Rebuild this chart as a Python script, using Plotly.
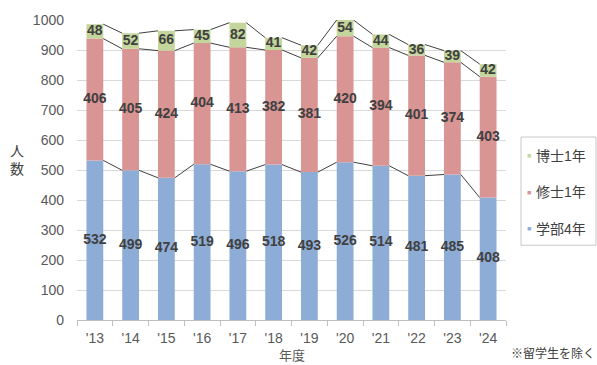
import plotly.graph_objects as go

years = ["'13", "'14", "'15", "'16", "'17", "'18", "'19", "'20", "'21", "'22", "'23", "'24"]
gakubu4 = [532, 499, 474, 519, 496, 518, 493, 526, 514, 481, 485, 408]
shushi1 = [406, 405, 424, 404, 413, 382, 381, 420, 394, 401, 374, 403]
hakushi1 = [48, 52, 66, 45, 82, 41, 42, 54, 44, 36, 39, 42]

series = [
    ("学部4年", gakubu4, "#8EADD6"),
    ("修士1年", shushi1, "#D99494"),
    ("博士1年", hakushi1, "#C3D69B"),
]

FONT = "Liberation Sans, Arial, Noto Sans CJK JP"
BAR_W = 0.47
xs = list(range(len(years)))

W, H = 597, 365
ML, MR, MT, MB = 77, 91, 15, 45
PW, PH = W - ML - MR, H - MT - MB


def px_x(p):
    return (p - ML) / PW


def px_y(p):
    return (H - MB - p) / PH


fig = go.Figure()

base = [0] * len(years)
tops = []
for name, vals, color in series:
    fig.add_trace(go.Bar(
        x=xs, y=vals, base=base, width=BAR_W, marker=dict(color=color, line_width=0),
        name=name, showlegend=False, hoverinfo="skip",
    ))
    # value labels centred in each segment
    fig.add_trace(go.Scatter(
        x=xs, y=[b + v / 2 for b, v in zip(base, vals)], mode="text",
        text=[str(v) for v in vals],
        textfont=dict(family=FONT, size=14, color="#404040", weight="bold"),
        showlegend=False, hoverinfo="skip",
    ))
    base = [b + v for b, v in zip(base, vals)]
    tops.append(list(base))

# series lines joining segment tops between neighbouring bars
for top in tops:
    lx, ly = [], []
    for i in range(len(xs) - 1):
        lx += [xs[i] + BAR_W / 2, xs[i + 1] - BAR_W / 2, None]
        ly += [top[i], top[i + 1], None]
    fig.add_trace(go.Scatter(
        x=lx, y=ly, mode="lines", line=dict(color="#404040", width=1),
        showlegend=False, hoverinfo="skip",
    ))

# compact legend box on the right
annotations = []
shapes = [dict(type="rect", xref="paper", yref="paper",
               x0=px_x(521), x1=px_x(596), y0=px_y(244), y1=px_y(134),
               line=dict(color="#C8C8C8", width=1), fillcolor="rgba(0,0,0,0)")]
for k, (name, vals, color) in enumerate(reversed(series)):
    yc = px_y(153 + 37 * k)
    annotations.append(dict(text="■", xref="paper", yref="paper", x=px_x(529), y=yc,
                            xanchor="center", yanchor="middle", showarrow=False,
                            font=dict(size=7, color=color)))
    annotations.append(dict(text=name, xref="paper", yref="paper", x=px_x(534), y=yc,
                            xanchor="left", yanchor="middle", showarrow=False,
                            font=dict(size=14, color="#404040")))

annotations += [
    dict(text="人<br>数", xref="paper", yref="paper", x=px_x(17), y=px_y(157),
         xanchor="center", yanchor="middle",
         showarrow=False, font=dict(size=14, color="#404040"), align="center"),
    dict(text="年度", xref="paper", yref="paper", x=px_x(292), y=px_y(356),
         xanchor="center", yanchor="middle",
         showarrow=False, font=dict(size=13, color="#595959")),
    dict(text="※留学生を除く", xref="paper", yref="paper", x=px_x(597), xanchor="right",
         y=px_y(354), yanchor="middle", showarrow=False, font=dict(size=12, color="#404040")),
]

fig.update_layout(
    width=W, height=H,
    margin=dict(l=ML, r=MR, t=MT, b=MB),
    paper_bgcolor="white", plot_bgcolor="white",
    font=dict(family=FONT, color="#595959", size=14),
    barmode="overlay",
    showlegend=False,
    xaxis=dict(
        range=[-0.5, len(years) - 0.5], tickvals=xs, ticktext=years,
        showgrid=False, zeroline=False, showline=True, linecolor="#BFBFBF",
        ticks="", ticklabelstandoff=5,
        minor=dict(ticks="outside", tick0=-0.5, dtick=1, ticklen=5, tickcolor="#BFBFBF", showgrid=False),
        tickfont=dict(size=14, color="#595959"),
    ),
    yaxis=dict(
        range=[0, 1000], dtick=100, showgrid=True, gridcolor="#D9D9D9",
        zeroline=False, showline=False, ticks="", ticklabelstandoff=12,
        tickfont=dict(size=14, color="#595959"),
    ),
    shapes=shapes,
    annotations=annotations,
)

fig.write_html("out.html")
